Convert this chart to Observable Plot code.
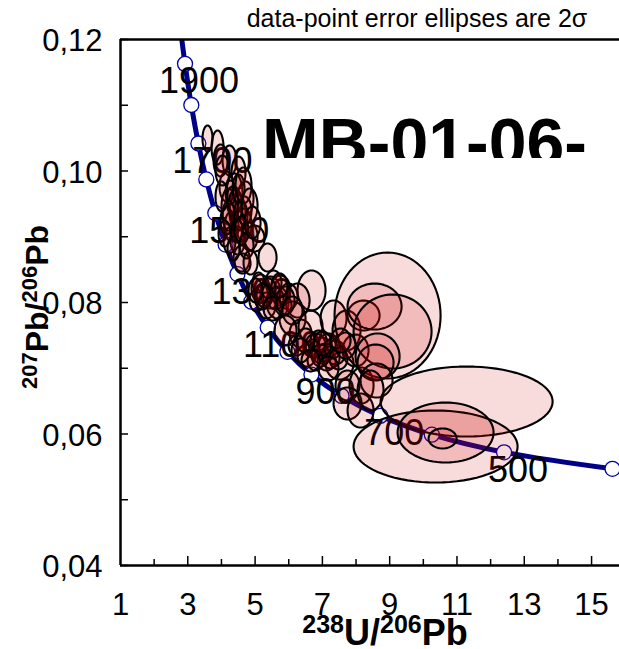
<!DOCTYPE html>
<html>
<head>
<meta charset="utf-8">
<script src="https://cdn.jsdelivr.net/npm/d3@7"></script>
<script src="https://cdn.jsdelivr.net/npm/@observablehq/plot@0.6"></script>
<style>
  html, body { margin: 0; padding: 0; background: #fff; }
  #wrap { position: relative; width: 619px; height: 649px; overflow: hidden; font-family: "Liberation Sans", Arial, sans-serif; }
  #title { position: absolute; left: 262px; top: 103px; height: 55px; overflow: hidden; font: bold 68px "Liberation Sans", Arial, sans-serif; line-height: normal; white-space: nowrap; color: #000; }
</style>
</head>
<body>
<div id="wrap"><div id="chart"></div><div id="title">MB-01-06-</div></div>
<script>
// Concordia (Tera-Wasserburg) age markers, Ma
const concAge = [400, 500, 600, 700, 800, 900, 1000, 1100, 1200, 1300, 1400, 1500, 1600, 1700, 1800, 1900, 2000];
const concX = [15.6211, 12.3993, 10.2518, 8.71824, 7.56842, 6.67432, 5.95934, 5.37458, 4.88751, 4.47558, 4.12264, 3.81700, 3.54966, 3.31396, 3.10458, 2.91736, 2.7491];
const concY = [0.054700, 0.057219, 0.059901, 0.062757, 0.065800, 0.069042, 0.072500, 0.076187, 0.080122, 0.084323, 0.088808, 0.093597, 0.098715, 0.104182, 0.110035, 0.116293, 0.12299];
const labelAges = [1900, 1700, 1500, 1300, 1100, 900, 700, 500];

// Data-point error ellipses (centre 238U/206Pb, 207Pb/206Pb, 2-sigma half-axes)
const ellX = [3.586,3.884,4.240,4.508,4.151,4.389,4.716,4.211,4.478,4.300,4.656,4.835,4.478,4.240,4.983,4.597,5.370,4.627,
  5.162,5.459,5.756,5.340,5.667,5.994,5.043,5.548,6.678,6.262,
  6.113,6.351,6.648,6.975,6.797,7.183,7.332,7.718,7.510,7.748,8.164,6.529,6.232,7.124,7.391,7.986,8.224,
  8.937,8.551,9.086,8.640,8.580,8.610,7.748,8.134,8.432,
  11.286,10.364,10.661,10.572,
  4.329,4.567,4.151,4.448,4.686,4.270,
  5.281,5.608,5.400,5.845,
  6.886,7.094,6.708,7.243,6.499,
  4.419,4.211,4.597,4.359,4.746,4.508,3.973,4.656,
  5.221,5.519,5.905,5.102,5.727,
  6.945,7.302,6.797,7.480,7.005,6.351,
  4.835,4.924,4.002,4.092,4.865,4.032,
  6.113,5.013,
  5.905,7.689,7.183,6.648,7.540];
const ellY = [0.10494,0.10357,0.10160,0.09977,0.09764,0.09658,0.09582,0.09460,0.09369,0.09156,0.09186,0.09004,0.08943,0.08943,0.08973,0.08669,0.08684,0.08593,
  0.08213,0.08152,0.08183,0.07954,0.08000,0.08091,0.08030,0.08304,0.08183,0.08030,
  0.07757,0.07529,0.07635,0.07270,0.07346,0.07346,0.07757,0.07574,0.07072,0.06738,0.06738,0.07194,0.07346,0.07118,0.07240,0.07270,0.07802,
  0.07802,0.07939,0.07559,0.07179,0.07087,0.06814,0.06464,0.06357,0.06662,
  0.06494,0.05810,0.06023,0.05932,
  0.09551,0.09323,0.09247,0.09095,0.09399,0.09673,
  0.08107,0.08061,0.08213,0.07954,
  0.07422,0.07240,0.07300,0.07164,0.07422,
  0.09475,0.09323,0.09095,0.08821,0.08867,0.09734,0.10160,0.09780,
  0.08091,0.07909,0.08030,0.08304,0.08259,
  0.07194,0.07300,0.07118,0.07148,0.07377,0.07270,
  0.09475,0.09217,0.09612,0.09049,0.08608,0.10008,
  0.07878,0.08183,
  0.07574,0.07346,0.06996,0.07118,0.07422];
const ellSX = [0.149,0.178,0.208,0.208,0.208,0.238,0.238,0.208,0.238,0.208,0.238,0.238,0.208,0.178,0.297,0.238,0.268,0.238,
  0.268,0.297,0.297,0.268,0.327,0.268,0.208,0.238,0.416,0.357,
  0.386,0.327,0.357,0.327,0.297,0.297,0.386,0.416,0.416,0.357,0.357,0.268,0.238,0.268,0.297,0.386,0.476,
  1.576,0.803,1.159,0.654,0.535,0.476,0.416,0.386,0.386,
  2.557,2.438,1.427,0.416,
  0.178,0.208,0.178,0.178,0.208,0.149,
  0.238,0.238,0.208,0.238,
  0.238,0.238,0.208,0.268,0.268,
  0.208,0.178,0.208,0.178,0.208,0.178,0.208,0.238,
  0.238,0.268,0.268,0.178,0.238,
  0.268,0.238,0.238,0.268,0.268,0.268,
  0.238,0.238,0.178,0.178,0.208,0.208,
  0.297,0.208,
  0.327,0.297,0.297,0.268,0.297];
const ellSY = [0.00198,0.00259,0.00228,0.00243,0.00228,0.00304,0.00259,0.00274,0.00274,0.00228,0.00243,0.00213,0.00213,0.00198,0.00198,0.00198,0.00213,0.00152,
  0.00213,0.00243,0.00228,0.00198,0.00243,0.00198,0.00167,0.00183,0.00304,0.00259,
  0.00259,0.00213,0.00243,0.00198,0.00183,0.00183,0.00274,0.00304,0.00243,0.00228,0.00274,0.00167,0.00152,0.00152,0.00183,0.00243,0.00228,
  0.00958,0.00350,0.00563,0.00350,0.00274,0.00259,0.00243,0.00259,0.00304,
  0.00532,0.00548,0.00456,0.00152,
  0.00213,0.00228,0.00213,0.00183,0.00213,0.00183,
  0.00183,0.00167,0.00152,0.00152,
  0.00152,0.00137,0.00137,0.00167,0.00183,
  0.00243,0.00228,0.00213,0.00183,0.00198,0.00213,0.00243,0.00274,
  0.00198,0.00183,0.00213,0.00152,0.00183,
  0.00167,0.00152,0.00152,0.00167,0.00183,0.00183,
  0.00259,0.00243,0.00228,0.00198,0.00183,0.00228,
  0.00213,0.00183,
  0.00228,0.00198,0.00183,0.00167,0.00183];

const xTickLabels = [1, 3, 5, 7, 9, 11, 13, 15];
const xMinorTicks = [2, 4, 6, 8, 10, 12, 14];
const yTickLabels = [0.04, 0.06, 0.08, 0.10, 0.12];
const yMinorTicks = [0.05, 0.07, 0.09, 0.11];

// build tables
const conc = concAge.map((t, i) => ({t, x: concX[i], y: concY[i]}));
const labels = conc.filter(d => labelAges.includes(d.t));
const ellPts = [];
ellX.forEach((cx, i) => {
  for (let k = 0; k <= 72; k++) {
    const a = 2 * Math.PI * k / 72;
    ellPts.push({id: i, x: cx + ellSX[i] * Math.cos(a), y: ellY[i] + ellSY[i] * Math.sin(a)});
  }
});

const W = 619, H = 649, mL = 120, mR = 0, mT = 39, mB = 84;
const plotW = W - mL - mR, plotH = H - mT - mB;
const FONT = "Liberation Sans, Arial, sans-serif";

const chart = Plot.plot({
  width: W, height: H,
  marginLeft: mL, marginRight: mR, marginTop: mT, marginBottom: mB,
  x: {domain: [1, 15.83], axis: null},
  y: {domain: [0.04, 0.12], axis: null},
  style: {fontFamily: FONT, background: "white", color: "black"},
  marks: [
    Plot.line(conc, {x: "x", y: "y", curve: "catmull-rom", stroke: "#000088", strokeWidth: 5, clip: true}),
    Plot.dot(conc, {x: "x", y: "y", r: 7.5, fill: "white", stroke: "#0000aa", strokeWidth: 1.3, clip: true}),
    Plot.text(labels, {x: "x", y: "y", text: d => String(d.t), dx: 14, dy: 18, fontSize: 36, fontFamily: FONT, fill: "black"}),
    Plot.line(ellPts, {x: "x", y: "y", z: "id", fill: "rgb(205,0,0)", fillOpacity: 0.14, stroke: "black", strokeWidth: 2.1}),
    // axis lines
    Plot.ruleX([1], {stroke: "black", strokeWidth: 2.5}),
    Plot.ruleY([0.04], {stroke: "black", strokeWidth: 2.5}),
    Plot.ruleY([0.12], {stroke: "black", strokeWidth: 2.5}),
    // inward ticks
    Plot.tickX(xTickLabels.slice(1), {x: d => d, insetTop: plotH - 9, stroke: "black", strokeWidth: 1.5}),
    Plot.tickX(xMinorTicks, {x: d => d, insetTop: plotH - 6, stroke: "black", strokeWidth: 1.5}),
    Plot.tickY(yTickLabels.concat(yMinorTicks), {y: d => d, insetRight: plotW - 8, stroke: "black", strokeWidth: 1.5}),
    // tick labels
    Plot.text(xTickLabels, {x: d => d, frameAnchor: "bottom", dy: 40, text: d => String(d), fontSize: 31, fontFamily: FONT, fill: "black", lineAnchor: "middle"}),
    Plot.text(yTickLabels, {y: d => d, frameAnchor: "left", dx: -18, dy: 2, text: d => d.toFixed(2).replace(".", ","), fontSize: 31, fontFamily: FONT, fill: "black", textAnchor: "end", lineAnchor: "middle"})
  ]
});
document.getElementById("chart").appendChild(chart);

const svg = d3.select(chart);
svg.append("text").attr("x", 417).attr("y", 27).attr("text-anchor", "middle")
  .attr("font-family", FONT).attr("font-size", 25).attr("fill", "black")
  .text("data-point error ellipses are 2σ");

const xt = svg.append("text").attr("x", 385).attr("y", 645).attr("text-anchor", "middle")
  .attr("font-family", FONT).attr("font-weight", "bold").attr("fill", "black");
xt.append("tspan").attr("font-size", 25).attr("dy", -12).text("238");
xt.append("tspan").attr("font-size", 36).attr("dy", 12).text("U/");
xt.append("tspan").attr("font-size", 25).attr("dy", -12).text("206");
xt.append("tspan").attr("font-size", 36).attr("dy", 12).text("Pb");

const yt = svg.append("text").attr("transform", "translate(48,307) rotate(-90)").attr("text-anchor", "middle")
  .attr("font-family", FONT).attr("font-weight", "bold").attr("fill", "black");
yt.append("tspan").attr("font-size", 22).attr("dy", -11).text("207");
yt.append("tspan").attr("font-size", 32).attr("dy", 11).text("Pb/");
yt.append("tspan").attr("font-size", 22).attr("dy", -11).text("206");
yt.append("tspan").attr("font-size", 32).attr("dy", 11).text("Pb");
</script>
</body>
</html>
